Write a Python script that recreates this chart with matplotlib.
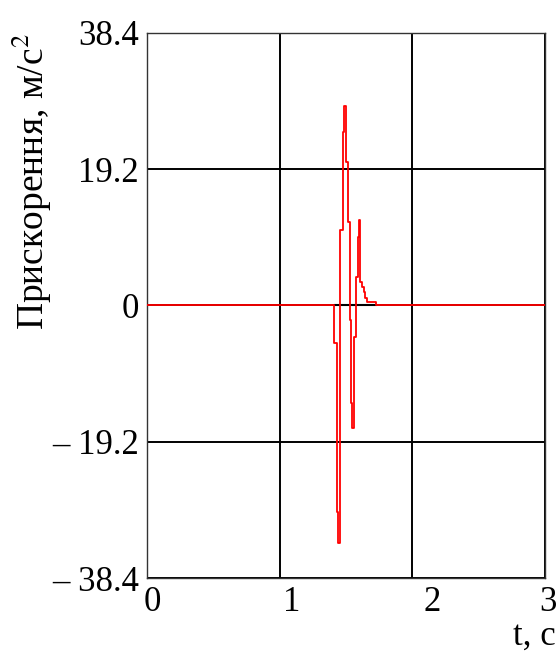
import matplotlib.pyplot as plt
import matplotlib.transforms as mtransforms

# step breakpoints of the acceleration trace (value holds until next time)
t_steps = [0.0, 1.409, 1.430, 1.435, 1.442, 1.455, 1.475, 1.488, 1.500, 1.513,
           1.528, 1.540, 1.547, 1.557, 1.563, 1.572, 1.588, 1.595, 1.605, 1.618,
           1.632, 1.645, 1.660, 1.726, 3.0]
a_steps = [0.0, -5.3, -10.1, -29.1, -33.5, 10.6, 24.5, 28.1, 20.2, 11.7,
           -2.1, -13.8, -17.3, -8.4, -4.5, 4.0, 9.6, 12.1, 3.3, 2.6,
           1.9, 1.1, 0.5, 0.0, 0.0]

# short black reference segment at zero
t_ref = [1.417, 1.726]
a_ref = [0.0, 0.0]

xticks = [0, 1, 2, 3]
xtick_labels = ["0", "1", "2", "3"]
yticks = [-38.4, -19.2, 0, 19.2, 38.4]
ytick_labels = ["\u2013 38.4", "\u2013 19.2", "0", "19.2", "38.4"]

plt.rcParams['font.family'] = ['Liberation Serif', 'DejaVu Serif']
plt.rcParams['mathtext.fontset'] = 'stix'

fig = plt.figure(figsize=(5.6, 6.59), dpi=100)
ax = fig.add_axes([0.2625, 0.1229, 0.7107, 0.8271])

ax.step(t_steps, a_steps, where='post', color='red', lw=1.3, zorder=3)
ax.plot(t_ref, a_ref, color='black', lw=1.5, zorder=2)

ax.set_xlim(0, 3)
ax.set_ylim(-38.4, 38.4)
ax.set_xticks(xticks)
ax.set_xticklabels(xtick_labels)
ax.set_yticks(yticks)
ax.set_yticklabels(ytick_labels)
ax.tick_params(length=0, labelsize=25, pad=6)
ax.grid(True, color='black', lw=1.4)
ax.set_axisbelow(True)
for s in ax.spines.values():
    s.set_color('#333333')
    s.set_linewidth(1.0)

# tick labels in the original sit a little to the right of the grid lines
shifts = [5, 12, 20, 3]
for lab, dx in zip(ax.get_xticklabels(), shifts):
    lab.set_transform(lab.get_transform() +
                      mtransforms.ScaledTranslation(dx / 100, 0, fig.dpi_scale_trans))

fig.text(32 / 560, 1 - 182 / 659, "Прискорення, м/с$^2$", rotation=90,
         ha='center', va='center', fontsize=27)
fig.text(556 / 560, 1 - 636 / 659, "t, c", ha='right', va='center', fontsize=25)

fig.savefig("out.png", dpi=100)
